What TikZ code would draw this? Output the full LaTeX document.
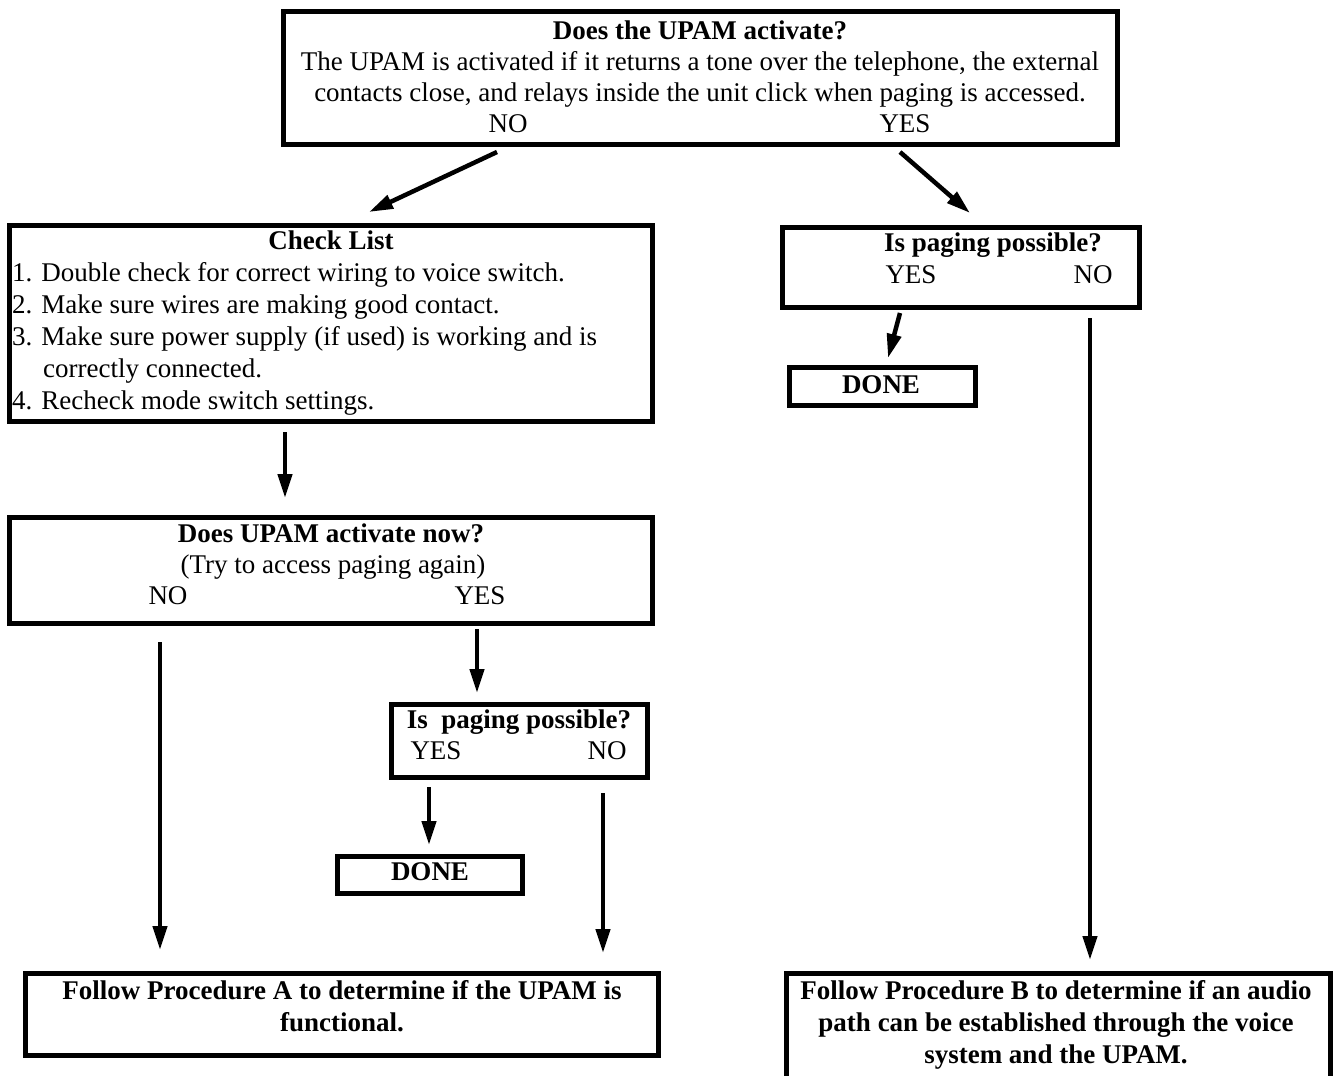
\documentclass[tikz,border=0pt]{standalone}
\usepackage{fontspec}
\setmainfont{Liberation Serif}
\usetikzlibrary{arrows.meta,calc}
\tikzset{
  boxst/.style={draw=black,line width=5pt,rectangle,inner sep=0pt,fill=white},
  txt/.style={anchor=base,inner sep=0pt,font=\fontsize{27}{32}\selectfont},
  txtl/.style={anchor=base west,inner sep=0pt,font=\fontsize{27}{32}\selectfont},
  arr/.style={line width=4.5pt,-{Triangle[length=24pt,width=14pt]}}
}
\newcommand\mkbox[5]{\node[boxst,minimum width={#4-#2-5},minimum height={#5-#3-5}] (#1) at ({(#2+#4)/2},{(#3+#5)/2}) {};}
\begin{document}
\begin{tikzpicture}[x=1pt,y=-1pt]
\useasboundingbox[fill=white] (0,0) rectangle (1334,1076);
% boxes
\mkbox{top}{281}{9}{1120}{147}
\mkbox{check}{7}{223}{655}{424}
\mkbox{now}{7}{515}{655}{626}
\mkbox{pagB}{389}{702}{650}{780}
\mkbox{doneB}{335}{854}{525}{896}
\mkbox{procA}{23}{971}{661}{1058}
\mkbox{pagA}{780}{225}{1142}{310}
\mkbox{doneA}{787}{365}{978}{408}
\mkbox{procB}{784}{971}{1333}{1110}
% top box text
\node[txt] (t1) at (700,39) {\textbf{Does the UPAM activate?}};
\node[txt] (t2) at (700,70) {The UPAM is activated if it returns a tone over the telephone, the external};
\node[txt] (t3) at (700,101) {contacts close, and relays inside the unit click when paging is accessed.};
\node[txt] (t4) at (508,132) {NO};
\node[txt] (t5) at (905,132) {YES};
% check list
\node[txt] (c0) at (331,249) {\textbf{Check List}};
\node[txtl] (c1) at (12,281) {1. Double check for correct wiring to voice switch.};
\node[txtl] (c2) at (12,313) {2. Make sure wires are making good contact.};
\node[txtl] (c3) at (12,345) {3. Make sure power supply (if used) is working and is};
\node[txtl] (c4) at (43,377) {correctly connected.};
\node[txtl] (c5) at (12,409) {4. Recheck mode switch settings.};
% now box
\node[txt] (n1) at (331,542) {\textbf{Does UPAM activate now?}};
\node[txt] (n2) at (333,573) {(Try to access paging again)};
\node[txt] (n3) at (168,604) {NO};
\node[txt] (n4) at (480,604) {YES};
% paging B
\node[txt] (p1) at (519,728) {\textbf{Is\ \ paging possible?}};
\node[txt] (p2) at (436,759) {YES};
\node[txt] (p3) at (607,759) {NO};
\node[txt] (d2) at (430,880) {\textbf{DONE}};
% paging A
\node[txt] (q1) at (993,251) {\textbf{Is paging possible?}};
\node[txt] (q2) at (911,283) {YES};
\node[txt] (q3) at (1093,283) {NO};
\node[txt] (d1) at (881,393) {\textbf{DONE}};
% procedures
\node[txt] (a1) at (342,999) {\textbf{Follow Procedure A to determine if the UPAM is}};
\node[txt] (a2) at (342,1031) {\textbf{functional.}};
\node[txt] (b1) at (1056,999) {\textbf{Follow Procedure B to determine if an audio}};
\node[txt] (b2) at (1056,1031) {\textbf{path can be established through the voice}};
\node[txt] (b3) at (1056,1063) {\textbf{system and the UPAM.}};
% connector coordinates
\coordinate (s1) at (497,152); \coordinate (e1) at (369,212);
\coordinate (s2) at (900,152); \coordinate (e2) at (970,213);
\coordinate (s3) at (285,432); \coordinate (e3) at (285,498);
\coordinate (s4) at (477,629); \coordinate (e4) at (477,693);
\coordinate (s5) at (900,313); \coordinate (e5) at (888,358);
\coordinate (s6) at (429,787); \coordinate (e6) at (429,845);
\coordinate (s7) at (160,642); \coordinate (e7) at (160,950);
\coordinate (s8) at (603,793); \coordinate (e8) at (603,953);
\coordinate (s9) at (1090,318); \coordinate (e9) at (1090,960);
\foreach \i in {1,...,9} {\draw[arr] (s\i) -- (e\i);}
\end{tikzpicture}
\end{document}
